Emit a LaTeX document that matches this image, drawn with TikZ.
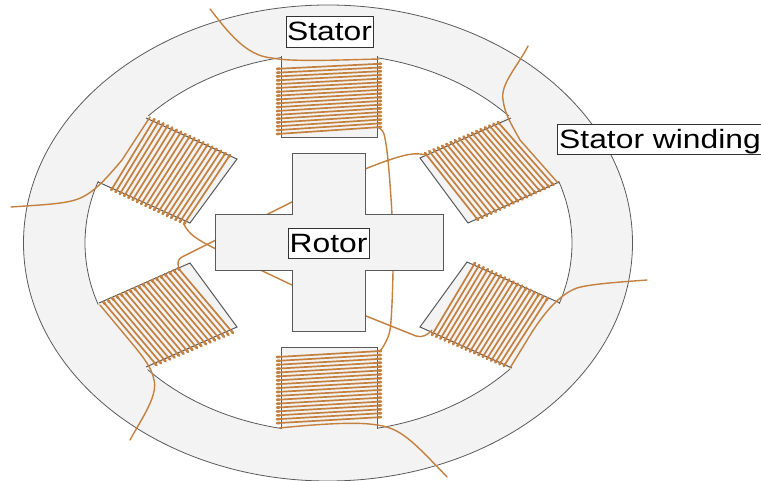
\documentclass[tikz,border=0pt]{standalone}
\usepackage{fontspec}
\setmainfont[FakeStretch=1.2]{Liberation Sans}
\usetikzlibrary{calc}
\definecolor{wirecol}{HTML}{C4803F}
\definecolor{ironcol}{HTML}{F3F3F3}
\definecolor{edgecol}{HTML}{5A5A5A}
\tikzset{
  wire/.style={draw=wirecol,line width=1.7pt,line cap=round,line join=round},
  leadwire/.style={draw=wirecol,line width=1.4pt,line cap=round,line join=round},
  tooth/.style={draw=wirecol,line width=2.6pt,line cap=round},
  iron/.style={draw=edgecol,fill=ironcol,line width=1pt},
  ironfill/.style={fill=ironcol},
  ironedge/.style={draw=edgecol,line width=1pt},
  rimline/.style={draw=edgecol,line width=0.8pt},
  lbl/.style={draw=black!80,fill=white,line width=0.8pt,inner sep=0pt,text height=19pt,text depth=0pt,font=\fontsize{26.5}{26.5}\selectfont,text=black}
}
% #1,#2 first edge from stator side to rotor side; #3,#4 second edge
\newcommand{\coilwires}[4]{%
  \foreach \i in {1,...,18}{%
    \pgfmathsetmacro{\tt}{\i/18}%
    \coordinate (pt) at ($#1!\tt!#2$);
    \coordinate (qt) at ($#3!\tt!#4$);
    \draw[wire] (pt) -- (qt);
    \draw[tooth] (pt) -- ($(pt)!2.5pt!(qt)$);
    \draw[tooth] (qt) -- ($(qt)!2.5pt!(pt)$);
  }%
}
\begin{document}
\begin{tikzpicture}[x=1pt,y=-1pt]
\useasboundingbox (0,0) rectangle (761,481);
% stator ring
\draw[rimline,fill=ironcol] (328,243) ellipse [x radius=304.5,y radius=238];
\draw[rimline,fill=white] (328.5,243) ellipse [x radius=243.5,y radius=189];
% stator poles
\fill[ironfill] (281,50) -- (281,138) -- (377,138) -- (377,50) -- cycle;
\draw[ironedge] (281,56) -- (281,138) -- (377,138) -- (377,56);
\fill[ironfill] (281,436) -- (281,347) -- (377,347) -- (377,436) -- cycle;
\draw[ironedge] (281,429) -- (281,347) -- (377,347) -- (377,429);
\fill[ironfill] (142,113) -- (237,159) -- (190,223) -- (92,178) -- cycle;
\draw[ironedge] (146,118) -- (237,159) -- (190,223) -- (98,182);
\fill[ironfill] (515,113) -- (420,158) -- (468,223) -- (565,178) -- cycle;
\draw[ironedge] (511,118) -- (420,158) -- (468,223) -- (559,182);
\fill[ironfill] (93,307) -- (190,263) -- (237,327) -- (142,372) -- cycle;
\draw[ironedge] (99,303) -- (190,263) -- (237,327) -- (146,367);
\fill[ironfill] (566,307) -- (467,262) -- (420,327) -- (516,372) -- cycle;
\draw[ironedge] (560,303) -- (467,262) -- (420,327) -- (512,368);
% leads that pass behind the rotor
\draw[leadwire] plot[smooth,tension=.5] coordinates {(379,128) (384,134) (388,160) (392,215) (393,271) (390,330) (380,351)};
\draw[leadwire] (426,155) .. controls (414,152) and (403,154) .. (365,169) -- (292,202) -- (214,241) -- (182,257) .. controls (178,259) and (177,263) .. (179,268);
\draw[leadwire] (184,224) .. controls (188,234) and (198,240) .. (214,248) -- (292,285) -- (366,316) -- (416,336) .. controls (422,338) and (428,335) .. (432,330);
% rotor
\draw[iron] (292,154) -- (365,154) -- (365,215) -- (443,215) -- (443,271) -- (365,271) -- (365,332) -- (292,332) -- (292,271) -- (215,271) -- (215,215) -- (292,215) -- cycle;
% windings
\coilwires{(277,65)}{(277,134)}{(381,60)}{(381,127)}
\coilwires{(277,427)}{(277,357)}{(381,421)}{(381,351)}
\coilwires{(150,117)}{(230,155)}{(107,188)}{(184,224)}
\coilwires{(502,120)}{(425,153)}{(558,183)}{(478,220)}
\coilwires{(99,304)}{(178,268)}{(152,367)}{(233,333)}
\coilwires{(552,300)}{(475,263)}{(508,368)}{(432,335)}
% free leads
\draw[leadwire] (210,9) .. controls (228,32) and (246,56) .. (272,58) .. controls (290,62) and (340,60) .. (379,59);
\draw[leadwire] (279,428) .. controls (310,425) and (355,421) .. (377,425) .. controls (400,428) and (412,440) .. (447,477);
\draw[leadwire] (528,46) .. controls (518,66) and (500,84) .. (503,100) .. controls (505,114) and (510,122) .. (520,140) -- (558,183);
\draw[leadwire] (11,207) .. controls (40,205) and (62,204) .. (75,200) .. controls (92,195) and (105,180) .. (122,160) -- (150,117);
\draw[leadwire] (130,440) .. controls (142,418) and (158,396) .. (154,380) .. controls (152,368) and (143,357) .. (135,347) -- (100,305);
\draw[leadwire] (647,280) .. controls (620,282) and (590,284) .. (577,288) .. controls (560,294) and (545,312) .. (532,332) -- (510,368);
% labels
\node[lbl,minimum width=87pt,minimum height=31pt] (stator) at (329.5,31.5) {Stator};
\node[lbl,minimum width=81pt,minimum height=30pt] (rotorlabel) at (328.5,243) {Rotor};
\node[lbl,minimum width=206pt,minimum height=30pt] (winding) at (660,139) {Stator winding};
\end{tikzpicture}
\end{document}
